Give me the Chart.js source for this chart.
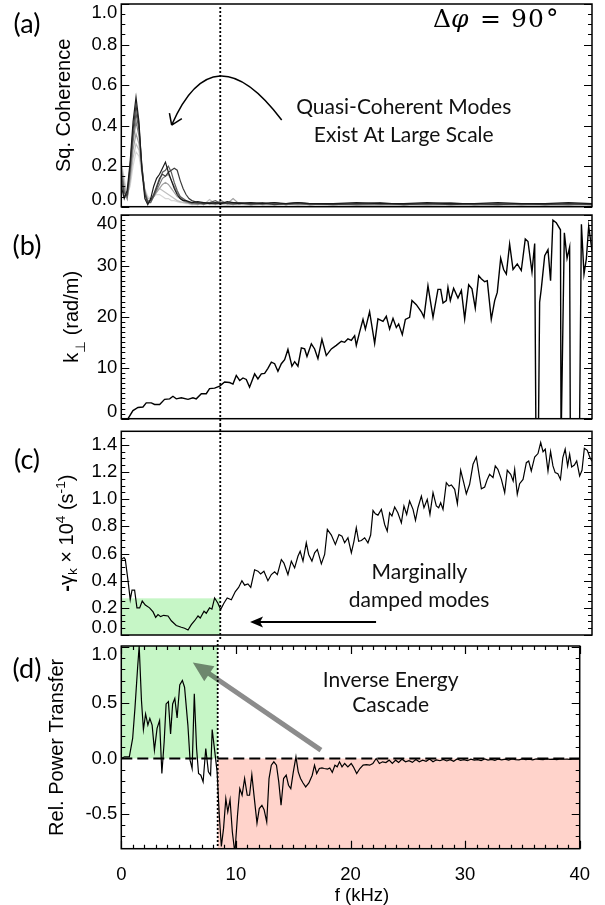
<!DOCTYPE html>
<html>
<head>
<meta charset="utf-8">
<title>Coherence, k-perp, damping and power transfer</title>
<script src="https://cdn.jsdelivr.net/npm/chart.js@4.4.1/dist/chart.umd.min.js"></script>
<style>
  html, body { margin: 0; padding: 0; background: #fff; }
  #wrap { position: relative; width: 605px; height: 905px; overflow: hidden; }
  canvas { position: absolute; left: 0; }
</style>
</head>
<body>
<div id="wrap">
  <canvas id="panelA" width="605" height="211" style="top:0px"></canvas>
  <canvas id="panelB" width="605" height="214" style="top:211px"></canvas>
  <canvas id="panelC" width="605" height="215" style="top:425px"></canvas>
  <canvas id="panelD" width="605" height="265" style="top:640px"></canvas>
</div>
<script>
// ---- values ----

// (a) squared coherence, several probe pairs
const fCoh = [0,0.25,0.5,0.75,1,1.25,1.5,1.75,2,2.25,2.5,2.75,3,3.25,3.5,3.75,4,4.25,4.5,4.75,5,5.25,5.5,5.75,
  6,6.5,7,7.5,8,8.5,9,9.5,10,11,12,13,14,15,16,18,20,22,24,26,28,30,32,34,36,38,40];
const coh1 = [0.10,0.04,0.08,0.22,0.42,0.54,0.42,0.18,0.04,0.01,0.04,0.10,0.14,0.16,0.19,0.22,0.17,0.13,0.09,0.06,0.04,0.03,0.03,0.025,
  0.02,0.025,0.02,0.015,0.02,0.015,0.025,0.02,0.015,0.02,0.015,0.02,0.015,0.02,0.015,0.015,0.02,0.015,0.015,0.02,0.015,0.015,0.02,0.015,0.015,0.02,0.015];
const coh2 = [0.14,0.05,0.06,0.20,0.38,0.50,0.40,0.20,0.06,0.02,0.03,0.06,0.10,0.14,0.16,0.15,0.17,0.18,0.19,0.18,0.13,0.09,0.06,0.04,
  0.03,0.02,0.015,0.02,0.015,0.02,0.015,0.02,0.02,0.015,0.02,0.01,0.015,0.02,0.015,0.01,0.015,0.02,0.01,0.015,0.01,0.015,0.01,0.015,0.01,0.015,0.01];
const coh3 = [0.17,0.07,0.05,0.18,0.35,0.46,0.38,0.20,0.07,0.02,0.02,0.05,0.09,0.13,0.17,0.18,0.20,0.17,0.12,0.08,0.05,0.04,0.03,0.02,
  0.02,0.015,0.02,0.02,0.03,0.015,0.02,0.015,0.02,0.01,0.015,0.02,0.01,0.015,0.01,0.015,0.01,0.015,0.01,0.015,0.02,0.01,0.015,0.01,0.015,0.01,0.015];
const coh4 = [0.19,0.08,0.04,0.16,0.32,0.42,0.35,0.19,0.07,0.03,0.03,0.05,0.08,0.11,0.14,0.15,0.16,0.13,0.10,0.07,0.05,0.035,0.025,0.02,
  0.015,0.02,0.01,0.02,0.015,0.03,0.015,0.01,0.015,0.02,0.01,0.015,0.01,0.02,0.01,0.015,0.01,0.01,0.015,0.01,0.015,0.01,0.01,0.015,0.01,0.01,0.015];
const coh5 = [0.20,0.10,0.04,0.14,0.28,0.36,0.31,0.18,0.08,0.03,0.03,0.05,0.07,0.09,0.11,0.12,0.11,0.09,0.07,0.05,0.04,0.03,0.02,0.02,
  0.015,0.01,0.02,0.015,0.01,0.02,0.015,0.04,0.015,0.01,0.015,0.01,0.015,0.01,0.015,0.01,0.015,0.01,0.01,0.015,0.01,0.01,0.015,0.01,0.01,0.015,0.01];
const coh6 = [0.21,0.12,0.05,0.12,0.24,0.31,0.28,0.17,0.08,0.04,0.04,0.06,0.08,0.09,0.08,0.07,0.06,0.05,0.04,0.03,0.025,0.02,0.02,0.015,
  0.01,0.015,0.01,0.035,0.015,0.01,0.015,0.01,0.01,0.015,0.01,0.01,0.015,0.01,0.01,0.01,0.005,0.01,0.01,0.005,0.01,0.01,0.005,0.01,0.01,0.005,0.01];
const coh7 = [0.22,0.14,0.06,0.10,0.20,0.27,0.25,0.16,0.09,0.05,0.04,0.05,0.06,0.06,0.05,0.04,0.04,0.03,0.03,0.025,0.02,0.02,0.015,0.015,
  0.01,0.01,0.015,0.01,0.01,0.01,0.005,0.01,0.01,0.005,0.01,0.005,0.01,0.005,0.01,0.005,0.01,0.005,0.005,0.01,0.005,0.005,0.01,0.005,0.005,0.01,0.005];
const cohShades = ['#1a1a1a', '#3c3c3c', '#5e5e5e', '#808080', '#a0a0a0', '#bfbfbf', '#d8d8d8'];

// (b) perpendicular wavenumber, rad/m
const fK = [0.2,0.57,0.99,1.42,1.84,2.12,2.55,2.83,3.26,3.68,4.11,4.39,4.67,5.1,5.67,6.09,6.37,6.8,7.22,7.5,
  7.93,8.36,8.78,9.2,9.49,9.77,10.06,10.34,10.62,10.9,11.33,11.61,11.9,12.18,12.46,12.75,13.03,13.31,13.6,13.88,
  14.16,14.5,14.73,15.01,15.3,15.58,15.78,16.15,16.43,16.71,17.05,17.42,17.85,18.27,18.7,18.98,19.26,19.55,19.83,19.97,
  20.25,20.54,20.74,21.1,21.53,21.81,22.24,22.52,22.8,23.09,23.37,23.57,23.88,24.14,24.5,24.7,25.07,25.5,25.72,26.06,
  26.49,26.91,27.14,27.34,27.62,27.76,27.96,28.24,28.61,28.9,29.18,29.52,29.8,30.08,30.37,30.59,30.88,31.1,31.44,31.73,
  31.95,32.24,32.49,32.72,33.0,33.29,33.65,33.99,34.33,34.56,34.9,35.13,35.24,35.44,35.55,35.69,35.98,36.26,36.48,36.68,
  36.96,37.32,37.37,37.42,37.65,37.88,38.1,38.16,38.93,39.1,39.32,39.52,39.72,40.0];
const kPerp = [-1.5,0,1.6,2.2,2.3,3.1,3.1,2.8,2.8,3.8,3.9,4.4,3.9,4.1,3.8,4.1,3.9,4.9,4.9,5.9,
  6.0,6.4,7.2,7.1,6.8,8.5,7.5,8.0,7.7,6.2,8.8,7.8,8.8,8.9,9.9,11.1,10.8,9.3,10.8,11.6,
  13.6,10.3,11.2,10.3,13.9,13.7,12.2,14.7,13.7,11.8,15.6,12.4,13.7,14.4,15.2,15.0,15.7,15.4,16.3,14.4,
  17.0,19.5,17.6,21.0,14.8,19.6,19.1,20.1,17.6,19.7,17.9,18.6,16.5,19.5,19.9,23.2,22.4,21.0,19.9,26.1,
  19.9,25.4,25.4,22.7,23.2,25.8,23.2,25.6,23.7,25.2,19.6,26.3,25.5,21.7,28.1,27.5,26.9,27.1,19.5,23.2,
  24.8,31.5,29.3,28.4,34.3,29.3,30.4,29.1,35.3,34.8,28.8,34.4,-5,-5,22.9,25.5,32.0,33.2,27.1,39.0,
  38.5,37.1,-5,-5,36.5,31.5,33.7,-5,-5,38.2,28.4,31.4,37.8,33.0];

// (c) -gamma_k x 1e4, 1/s
const fGam = [0,0.23,0.34,0.57,0.76,0.91,1.13,1.33,1.56,1.78,2.04,2.4,2.7,2.92,3.12,3.34,3.6,3.97,4.25,4.67,
  5.1,5.38,5.67,5.95,6.23,6.52,6.71,7.03,7.22,7.5,7.7,7.93,8.2,8.44,8.73,9.0,9.35,9.69,9.97,10.25,
  10.48,10.76,11.0,11.33,11.61,11.84,12.12,12.46,12.75,13.03,13.26,13.6,13.82,14.16,14.45,14.73,15.01,15.2,15.44,15.72,
  15.92,16.2,16.43,16.66,17.0,17.28,17.51,17.85,18.19,18.5,18.75,18.98,19.26,19.55,19.77,19.97,20.17,20.4,20.68,20.96,
  21.19,21.39,21.59,21.81,22.1,22.38,22.6,22.8,23.0,23.23,23.5,23.8,24.02,24.25,24.5,24.79,25.0,25.21,25.5,25.72,
  26.0,26.23,26.49,26.77,26.97,27.14,27.34,27.62,27.85,28.05,28.33,28.56,28.84,29.1,29.32,29.6,29.89,30.17,30.4,30.6,
  30.88,31.1,31.3,31.59,31.78,32.0,32.3,32.58,32.8,33.09,33.3,33.43,33.65,33.85,34.14,34.42,34.62,34.84,35.13,35.41,
  35.64,35.84,36.03,36.26,36.48,36.68,36.87,37.1,37.32,37.52,37.72,37.93,38.1,38.27,38.5,38.7,38.95,39.15,39.35,39.6,
  39.83,40.0];
const gamma = [0.556,0.57,0.556,0.40,0.26,0.33,0.33,0.20,0.20,0.25,0.22,0.20,0.17,0.13,0.15,0.135,0.145,0.14,0.105,0.07,
  0.057,0.05,0.037,0.076,0.105,0.14,0.125,0.175,0.16,0.20,0.19,0.273,0.236,0.187,0.236,0.273,0.26,0.32,0.35,0.40,
  0.367,0.376,0.35,0.48,0.47,0.45,0.47,0.40,0.445,0.465,0.445,0.556,0.53,0.445,0.544,0.494,0.58,0.617,0.544,0.679,
  0.593,0.544,0.605,0.63,0.524,0.593,0.777,0.736,0.667,0.74,0.728,0.679,0.716,0.605,0.69,0.79,0.69,0.696,0.716,0.679,
  0.736,0.918,0.893,0.883,0.925,0.814,0.765,0.90,0.876,0.942,0.90,0.826,0.95,0.888,0.986,0.925,0.844,0.937,1.023,0.937,
  0.999,0.888,1.048,0.95,0.937,0.974,0.925,1.122,1.097,1.105,1.073,0.967,1.213,1.122,1.04,1.11,1.257,1.311,1.183,1.077,
  1.09,1.146,1.183,1.159,1.245,1.22,1.146,1.048,1.213,1.183,1.134,1.22,1.036,1.114,1.146,1.269,1.282,1.208,1.311,1.336,
  1.417,1.35,1.368,1.208,1.35,1.245,1.196,1.188,1.146,1.306,1.368,1.245,1.331,1.237,1.252,1.282,1.171,1.213,1.375,1.36,
  1.306,1.28];

// (d) relative power transfer
const fPow = [0,0.28,0.7,0.99,1.19,1.42,1.56,1.76,1.93,2.12,2.32,2.49,2.69,2.89,3.12,3.34,3.54,3.74,3.91,4.11,
  4.3,4.48,4.67,4.87,5.1,5.33,5.52,5.81,6.0,6.18,6.37,6.57,6.74,6.94,7.14,7.37,7.6,7.79,7.93,8.16,
  8.36,8.55,8.73,8.92,9.12,9.29,9.49,9.69,9.91,10.14,10.34,10.54,10.76,10.99,11.19,11.39,11.61,11.84,12.04,12.27,
  12.46,12.69,12.89,13.09,13.31,13.54,13.74,13.94,14.16,14.39,14.59,14.79,15.01,15.24,15.44,15.64,15.86,16.09,16.37,16.66,
  16.86,17.05,17.28,17.51,17.71,18.0,18.19,18.41,18.64,18.84,19.04,19.26,19.49,19.77,20.06,20.25,20.54,20.82,21.1,21.39,
  21.67,21.95,22.24,22.52,22.8,23.09,23.37,23.65,23.94,24.2,24.5,24.8,25.1,25.4,25.7,26.0,26.3,26.6,26.9,27.2,
  27.5,27.8,28.1,28.4,28.7,29.0,29.3,29.6,29.9,30.2,30.5,30.8,31.1,31.4,31.7,32.0,32.3,32.6,32.9,33.2,
  33.5,33.8,34.1,34.4,34.7,35.0,35.3,35.6,35.9,36.2,36.5,36.8,37.1,37.4,37.7,38.0,38.3,38.6,38.9,39.2,
  39.5,39.8,40.0];
const relPower = [0,0.015,0.015,0.18,0.45,0.81,1.01,0.52,0.26,0.40,0.30,0.36,0.30,0.075,0.27,0.34,-0.135,0.15,0.49,0.51,
  0.22,0.49,0.54,0.365,0.66,0.70,0.64,0.30,-0.015,-0.09,0.58,0.09,-0.135,-0.15,-0.21,0.09,-0.12,-0.15,0.26,0.06,
  -0.12,-0.51,-0.79,-0.63,-0.36,-0.48,-0.37,-0.66,-0.85,-0.51,-0.27,-0.33,-0.18,-0.33,-0.33,-0.145,-0.36,-0.58,-0.45,-0.42,
  -0.46,-0.57,-0.18,-0.06,-0.03,-0.06,-0.21,-0.42,-0.18,-0.15,-0.24,-0.27,-0.12,0.015,-0.12,-0.18,-0.22,-0.255,-0.22,-0.15,
  -0.06,-0.135,-0.09,-0.085,-0.09,-0.095,-0.085,-0.125,-0.06,-0.075,-0.03,-0.075,-0.045,-0.075,-0.045,-0.075,-0.135,-0.09,-0.06,-0.055,
  -0.06,-0.045,0.0,-0.045,-0.03,-0.036,-0.015,-0.045,-0.015,-0.036,-0.006,-0.03,-0.02,-0.035,-0.01,-0.03,-0.015,-0.025,-0.005,-0.03,
  -0.012,-0.02,-0.008,-0.022,-0.01,-0.025,-0.005,-0.018,-0.01,-0.02,-0.006,-0.015,-0.01,-0.02,-0.004,-0.014,-0.008,-0.016,-0.005,-0.012,
  -0.006,-0.015,-0.004,-0.01,-0.012,-0.004,-0.01,-0.006,-0.012,-0.003,-0.008,-0.01,-0.004,-0.008,-0.006,-0.01,-0.003,-0.007,-0.005,-0.009,
  -0.004,-0.006,-0.003];
const zeroF = [0, 40];
const zeroV = [0, 0];

// axis ticks
const xTickVals = [0, 10, 20, 30, 40];
const yTicksA = [0, 0.2, 0.4, 0.6, 0.8, 1.0];
const yTicksB = [0, 10, 20, 30, 40];
const yTicksC = [0, 0.2, 0.4, 0.6, 0.8, 1.0, 1.2, 1.4];
const yTicksD = [-0.5, 0, 0.5, 1.0];

const fSplit = 8.41;   // dotted line (kHz)
const dampTop = 0.27;  // top of the green band in (c)

const SANS = '"Liberation Sans", "DejaVu Sans", Arial, sans-serif';
const GILL = 'Lato, "Open Sans", sans-serif';
const SERIF = '"DejaVu Serif", "Liberation Serif", serif';
const GREEN = '#c6f6c6';
const RED = '#ffd3cb';

function pairs(xs, ys) {
  const n = Math.min(xs.length, ys.length);
  const out = [];
  for (let i = 0; i < n; i++) out.push({ x: xs[i], y: ys[i] });
  return out;
}

function lineSet(xs, ys, color, width, dash) {
  return {
    data: pairs(xs, ys), showLine: true, borderColor: color, borderWidth: width,
    borderDash: dash || [], pointRadius: 0, clip: 0
  };
}

function stepValues(min, max, step) {
  const out = [];
  for (let i = Math.ceil(min / step - 1e-6); i <= Math.floor(max / step + 1e-6); i++) out.push(i * step);
  return out;
}

function isMultiple(v, m) {
  return Math.abs(v / m - Math.round(v / m)) < 1e-6;
}

// rotated rich text (sub/superscripts), centred on 0 along the baseline
function richText(ctx, segs, size) {
  let total = 0;
  segs.forEach(s => {
    s.size = s.sub || s.sup ? size * 0.68 : size;
    ctx.font = (s.bold ? 'bold ' : '') + s.size + 'px ' + SANS;
    s.w = ctx.measureText(s.t).width;
    total += s.w;
  });
  let cx = -total / 2;
  segs.forEach(s => {
    ctx.font = (s.bold ? 'bold ' : '') + s.size + 'px ' + SANS;
    const dy = s.sub ? s.sub : s.sup ? -s.sup : 0;
    ctx.fillText(s.t, cx, dy);
    cx += s.w;
  });
}

function note(ctx, x, y, text, f, v) {
  ctx.font = '21px ' + GILL;
  ctx.textAlign = 'center';
  ctx.textBaseline = 'alphabetic';
  ctx.fillStyle = '#111';
  ctx.fillText(text, x.getPixelForValue(f), y.getPixelForValue(v));
}

function arrowHead(ctx, tip, from, len, half, notch) {
  const ang = Math.atan2(tip[1] - from[1], tip[0] - from[0]);
  ctx.save();
  ctx.translate(tip[0], tip[1]);
  ctx.rotate(ang);
  ctx.beginPath();
  ctx.moveTo(0, 0);
  ctx.lineTo(-len, -half);
  ctx.lineTo(-len + notch, 0);
  ctx.lineTo(-len, half);
  ctx.closePath();
  ctx.fill();
  ctx.restore();
}

function box(ctx, x, y, f0, f1, v0, v1, color) {
  const px0 = x.getPixelForValue(f0), px1 = x.getPixelForValue(f1);
  const py0 = y.getPixelForValue(v1), py1 = y.getPixelForValue(v0);
  ctx.save();
  ctx.globalCompositeOperation = 'multiply';
  ctx.fillStyle = color;
  ctx.fillRect(px0, py0, px1 - px0, py1 - py0);
  ctx.restore();
}

function decor(o) {
  return {
    id: 'decor',
    beforeDatasetsDraw(chart) {
      if (!o.under) return;
      const { ctx, chartArea: a, scales: { x, y } } = chart;
      ctx.save();
      o.under(ctx, x, y, a);
      ctx.restore();
    },
    afterDatasetsDraw(chart) {
      const { ctx, chartArea: a, scales: { x, y } } = chart;
      const H = chart.height;
      ctx.save();
      ctx.strokeStyle = '#000';
      ctx.fillStyle = '#000';

      // dotted divider at the split frequency
      const xd = x.getPixelForValue(fSplit);
      ctx.lineWidth = 1.8;
      ctx.setLineDash([2, 2]);
      ctx.beginPath();
      ctx.moveTo(xd, o.dotTop === 'area' ? a.top + 3 : 0);
      ctx.lineTo(xd, o.dotBottom === 'area' ? a.bottom : H);
      ctx.stroke();
      ctx.setLineDash([]);

      // frame
      ctx.lineWidth = 1.5;
      ctx.strokeRect(a.left, a.top, a.right - a.left, a.bottom - a.top);

      // inward ticks, both sides
      ctx.lineWidth = 1.2;
      ctx.beginPath();
      stepValues(y.min, y.max, o.minor).forEach(v => {
        const len = isMultiple(v, o.major) ? 8 : 4;
        const py = Math.round(y.getPixelForValue(v)) + 0.5;
        ctx.moveTo(a.left, py); ctx.lineTo(a.left + len, py);
        ctx.moveTo(a.right, py); ctx.lineTo(a.right - len, py);
      });
      if (o.xTicks) {
        stepValues(0, 40, 1).forEach(v => {
          const len = isMultiple(v, 10) ? 8 : 4;
          const px = Math.round(x.getPixelForValue(v)) + 0.5;
          ctx.moveTo(px, a.top); ctx.lineTo(px, a.top + len);
          ctx.moveTo(px, a.bottom); ctx.lineTo(px, a.bottom - len);
        });
      }
      ctx.stroke();

      // y tick labels
      ctx.font = '18.5px ' + SANS;
      ctx.textAlign = 'right';
      ctx.textBaseline = 'middle';
      o.yTicks.forEach(v => {
        let py = y.getPixelForValue(v);
        py = Math.min(Math.max(py, a.top + 8.5), a.bottom - 7);
        ctx.fillText(v.toFixed(o.digits), a.left - 4, py);
      });

      // y title
      ctx.save();
      ctx.translate(o.titleX, (a.top + a.bottom) / 2);
      ctx.rotate(-Math.PI / 2);
      ctx.textAlign = 'left';
      ctx.textBaseline = 'alphabetic';
      richText(ctx, o.title, 20);
      ctx.restore();

      // panel letter
      ctx.font = '27px ' + GILL;
      ctx.textAlign = 'center';
      ctx.textBaseline = 'middle';
      ctx.fillText(o.letter, 27, o.letterY);

      if (o.over) o.over(ctx, x, y, a);
      ctx.restore();
    }
  };
}

function makePanel(id, o) {
  const xAxis = o.xAxis || { type: 'linear', min: 0, max: 40, display: false };
  return new Chart(document.getElementById(id), {
    type: 'scatter',
    data: { datasets: o.datasets },
    options: {
      responsive: false,
      animation: false,
      events: [],
      layout: { padding: { left: 121.3, right: 13, top: o.padTop, bottom: o.padBottom } },
      plugins: { legend: { display: false }, tooltip: { enabled: false } },
      scales: {
        x: xAxis,
        y: { type: 'linear', min: o.yMin, max: o.yMax, display: false }
      }
    },
    plugins: [decor(o)]
  });
}

// (a)
const cohSeries = [coh1, coh2, coh3, coh4, coh5, coh6, coh7];
makePanel('panelA', {
  datasets: cohSeries.map((s, i) => lineSet(fCoh, s, cohShades[i], 1.2)),
  yMin: 0, yMax: 1.0, minor: 0.05, major: 0.2, yTicks: yTicksA, digits: 1,
  padTop: 4, padBottom: 4.3,
  letter: '(a)', letterY: 24,
  title: [{ t: 'Sq. Coherence' }], titleX: 70,
  dotTop: 'area', dotBottom: 'canvas',
  over(ctx, x, y, a) {
    // curved arrow pointing back to the low-frequency modes
    const p0 = [x.getPixelForValue(13.63), y.getPixelForValue(0.428)];
    const pm = [x.getPixelForValue(8.39), y.getPixelForValue(0.645)];
    const p2 = [x.getPixelForValue(4.28), y.getPixelForValue(0.403)];
    const c = [2 * pm[0] - (p0[0] + p2[0]) / 2, 2 * pm[1] - (p0[1] + p2[1]) / 2];
    ctx.strokeStyle = '#000';
    ctx.lineWidth = 1.5;
    ctx.beginPath();
    ctx.moveTo(p0[0], p0[1]);
    ctx.quadraticCurveTo(c[0], c[1], p2[0], p2[1]);
    const back = Math.atan2(c[1] - p2[1], c[0] - p2[0]);
    [-0.6, 0.6].forEach(d => {
      ctx.moveTo(p2[0], p2[1]);
      ctx.lineTo(p2[0] + 12 * Math.cos(back + d), p2[1] + 12 * Math.sin(back + d));
    });
    ctx.stroke();

    note(ctx, x, y, 'Quasi-Coherent Modes', 24.0, 0.457);
    note(ctx, x, y, 'Exist At Large Scale', 24.0, 0.319);

    // delta phi = 90 degrees, laid out glyph by glyph from the frame corner
    const base = y.getPixelForValue(0.887);
    ctx.fillStyle = '#000';
    ctx.textBaseline = 'alphabetic';
    ctx.textAlign = 'left';
    ctx.font = '25px ' + SERIF;
    ctx.fillText('Δ', a.right - 159, base);
    ctx.font = 'italic 25px ' + SERIF;
    ctx.fillText('φ', a.right - 141, base);
    ctx.font = '25px ' + SERIF;
    ctx.fillText('=', a.right - 112, base);
    ctx.fillText('9', a.right - 81, base);
    ctx.fillText('0', a.right - 64, base);
    ctx.fillText('°', a.right - 46, base);
  }
});

// (b)
makePanel('panelB', {
  datasets: [lineSet(fK, kPerp, '#000', 1.4)],
  yMin: 0, yMax: 40, minor: 1, major: 10, yTicks: yTicksB, digits: 0,
  padTop: 4, padBottom: 6.3,
  letter: '(b)', letterY: 35,
  title: [{ t: 'k' }, { t: '⊥', sub: 7 }, { t: ' (rad/m)' }], titleX: 78,
  dotTop: 'canvas', dotBottom: 'canvas'
});

// (c)
makePanel('panelC', {
  datasets: [lineSet(fGam, gamma, '#000', 1.2)],
  yMin: 0, yMax: 1.5, minor: 0.05, major: 0.2, yTicks: yTicksC, digits: 1,
  padTop: 6.3, padBottom: 5,
  letter: '(c)', letterY: 35,
  title: [{ t: '-', bold: true }, { t: 'γ' }, { t: 'k', sub: 4 }, { t: ' × 10' }, { t: '4', sup: 8 },
          { t: ' (s' }, { t: '-1', sup: 8 }, { t: ')' }],
  titleX: 73,
  dotTop: 'canvas', dotBottom: 'canvas',
  under(ctx, x, y, a) {
    box(ctx, x, y, 0, fSplit, 0, dampTop, GREEN);
  },
  over(ctx, x, y, a) {
    const tail = [x.getPixelForValue(21.65), y.getPixelForValue(0.096)];
    const tip = [x.getPixelForValue(10.94), y.getPixelForValue(0.096)];
    ctx.strokeStyle = '#000';
    ctx.fillStyle = '#000';
    ctx.lineWidth = 2;
    ctx.beginPath();
    ctx.moveTo(tail[0], tail[1]);
    ctx.lineTo(tip[0] + 8, tip[1]);
    ctx.stroke();
    arrowHead(ctx, tip, tail, 13, 5.5, 3);
    note(ctx, x, y, 'Marginally', 25.34, 0.412);
    note(ctx, x, y, 'damped modes', 25.3, 0.206);
  }
});

// (d)
makePanel('panelD', {
  datasets: [
    lineSet(fPow, relPower, '#000', 1.2),
    lineSet(zeroF, zeroV, '#000', 2, [11, 5])
  ],
  yMin: -0.81, yMax: 1.01, minor: 0.1, major: 0.5, yTicks: yTicksD, digits: 1,
  padTop: 6, padBottom: 0,
  letter: '(d)', letterY: 29,
  title: [{ t: 'Rel. Power Transfer' }], titleX: 63,
  dotTop: 'canvas', dotBottom: 'area',
  xTicks: true,
  xAxis: {
    type: 'linear', min: 0, max: 40,
    grid: { display: false, drawTicks: false },
    border: { display: false },
    afterBuildTicks: s => { s.ticks = xTickVals.map(v => ({ value: v })); },
    afterFit: s => { s.height = 56.3; },
    ticks: {
      color: '#000', padding: 15, maxRotation: 0, autoSkip: false,
      font: { family: SANS, size: 18.5 },
      callback: v => String(v)
    }
  },
  under(ctx, x, y, a) {
    // grey arrow first, so the green band tints its head
    const tail = [x.getPixelForValue(17.42), y.getPixelForValue(0.075)];
    const tip = [x.getPixelForValue(6.24), y.getPixelForValue(0.862)];
    const ang = Math.atan2(tip[1] - tail[1], tip[0] - tail[0]);
    ctx.strokeStyle = '#8c8c8c';
    ctx.fillStyle = '#8c8c8c';
    ctx.lineWidth = 5;
    ctx.beginPath();
    ctx.moveTo(tail[0], tail[1]);
    ctx.lineTo(tip[0] - 16 * Math.cos(ang), tip[1] - 16 * Math.sin(ang));
    ctx.stroke();
    arrowHead(ctx, tip, tail, 20, 9, 0);
    box(ctx, x, y, 0, fSplit, 0, y.max, GREEN);
    box(ctx, x, y, fSplit, 40, y.min, 0, RED);
  },
  over(ctx, x, y, a) {
    note(ctx, x, y, 'Inverse Energy', 23.51, 0.644);
    note(ctx, x, y, 'Cascade', 23.51, 0.419);
    ctx.font = '18.5px ' + SANS;
    ctx.fillStyle = '#000';
    ctx.textAlign = 'center';
    ctx.textBaseline = 'alphabetic';
    ctx.fillText('f (kHz)', x.getPixelForValue(21), 261);
  }
});
</script>
</body>
</html>
